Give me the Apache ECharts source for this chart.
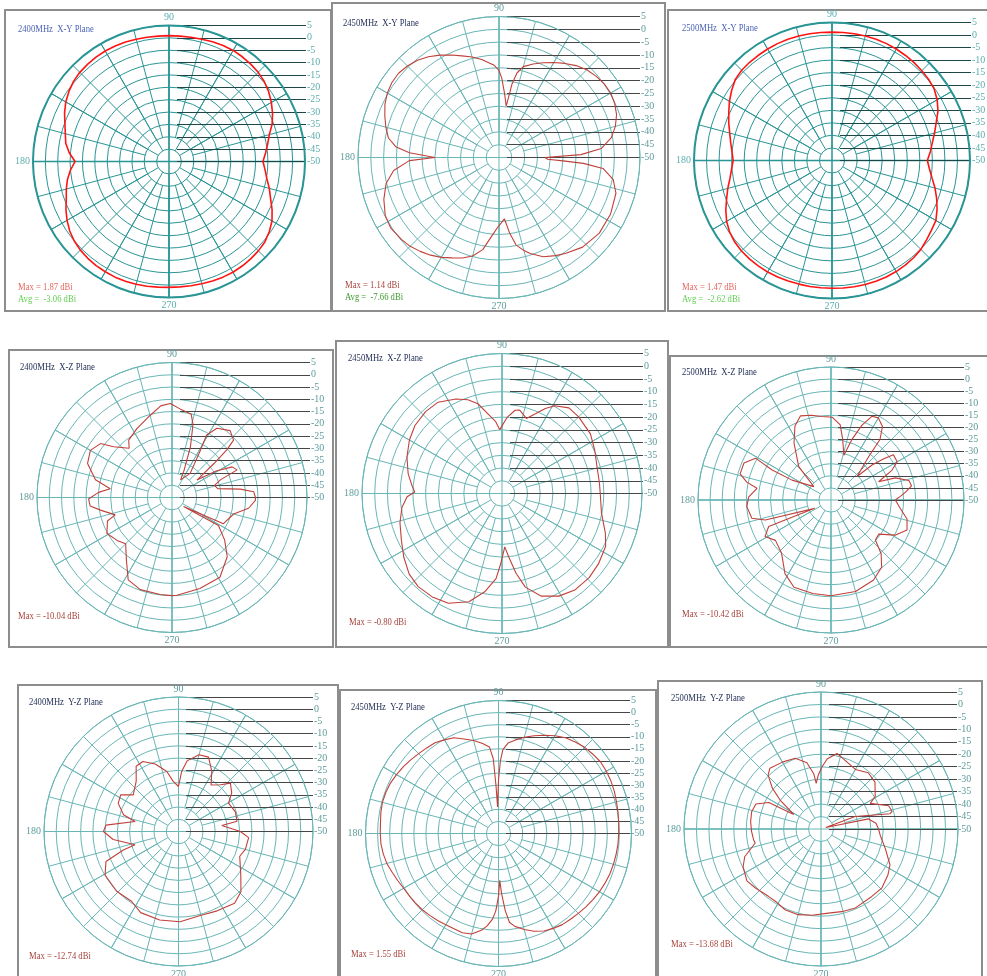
<!DOCTYPE html>
<html>
<head>
<meta charset="utf-8">
<title>Antenna radiation patterns</title>
<script src="https://cdn.jsdelivr.net/npm/echarts@6/dist/echarts.min.js"></script>
<style>
  html, body { margin: 0; padding: 0; background: #ffffff; }
  #chart { width: 987px; height: 976px; }
</style>
</head>
<body>
<div id="chart"></div>
<script>
// Gain scale in dBi: the centre is -50, the outer ring +5, one ring every 5 dB
const gainTicks = [5, 0, -5, -10, -15, -20, -25, -30, -35, -40, -45, -50];
// Angle labels printed round each plot (0 is replaced by the -50 label)
const angleTicks = [90, 180, 270];

// Shared 5-degree sampling used by the two smooth X-Y cuts
const stepAngles = [
  0, 5, 10, 15, 20, 25, 30, 35, 40, 45, 50, 55,
  60, 65, 70, 75, 80, 85, 90, 95, 100, 105, 110, 115,
  120, 125, 130, 135, 140, 145, 150, 155, 160, 165, 170, 175,
  180, 185, 190, 195, 200, 205, 210, 215, 220, 225, 230, 235,
  240, 245, 250, 255, 260, 265, 270, 275, 280, 285, 290, 295,
  300, 305, 310, 315, 320, 325, 330, 335, 340, 345, 350, 355
];

// 2400 MHz, X-Y plane
const xy2400Gain = [
  -12, -10.8, -9.5, -8, -5.6, -3.8, -2.2, -0.8, 0.3, 1.0, 1.4, 1.7,
  1.87, 1.8, 1.5, 1.2, 1.0, 0.9, 0.9, 0.9, 1.0, 1.2, 1.4, 1.5,
  1.6, 1.5, 1.3, 1.0, 0.4, -0.6, -1.8, -3.4, -5.2, -6.6, -7.6, -9.5,
  -12, -10, -8.3, -7, -5.8, -4, -2.4, -1, 0, 0.7, 1.1, 1.4,
  1.5, 1.6, 1.5, 1.4, 1.2, 1.0, 0.9, 0.9, 1.0, 1.2, 1.4, 1.6,
  1.7, 1.6, 1.4, 1.1, 0.6, -0.5, -1.9, -4, -6.3, -8, -9.8, -11
];

// 2500 MHz, X-Y plane
const xy2500Gain = [
  -12, -10.7, -9.4, -7.7, -5.8, -3.4, -1.6, -0.3, 0.3, 0.6, 0.9, 1.1,
  1.3, 1.4, 1.47, 1.4, 1.3, 1.2, 1.15, 1.2, 1.3, 1.4, 1.4, 1.4,
  1.3, 1.2, 1.1, 0.9, 0.3, -1.2, -2.8, -4.6, -6.2, -7.8, -9, -10,
  -10.6, -9.8, -8.7, -7, -5.3, -3.3, -1.5, -0.2, 0.6, 1.0, 1.2, 1.3,
  1.3, 1.2, 1.1, 1.0, 1.0, 0.9, 0.9, 1.0, 1.1, 1.2, 1.2, 1.2,
  1.1, 0.9, 0.6, 0.1, -0.8, -1.6, -2.2, -3.8, -5.6, -7.5, -9.5, -11
];

// 2450 MHz, X-Y plane
const xy2450Angle = [
  0, 2, 5, 10, 15, 20, 25, 30, 35, 40, 45, 50, 55, 60, 65, 70, 75, 78, 80, 82,
  85, 88, 90, 93, 100, 105, 110, 115, 120, 125, 130, 135, 140, 145, 150, 155,
  160, 165, 170, 174, 177, 180, 182, 187, 193, 200, 207, 213, 220, 225, 230,
  235, 240, 245, 250, 255, 260, 265, 269, 272, 275, 278, 281, 285, 288, 294,
  300, 305, 313, 323, 333, 343, 349, 354, 356, 357, 358
];
const xy2450Gain = [
  -32, -18, -10, -5.5, -3, -1.2, -0.2, 0.3, 0.1, -0.6, -1.6, -3.2, -5.2, -7.2, -9.2, -11.2, -13.3, -16.3, -21, -29.8,
  -25, -19, -16, -14, -11.2, -9.4, -7.8, -5.9, -3.9, -2, -0.5, 0.5, 1.14, 1.0, 0.3, -0.9,
  -2.6, -4.3, -6.2, -9.5, -15, -25, -15, -8.6, -4.8, -2.2, -0.2, 0.4, -0.3, -1, -2.2,
  -3.5, -5, -6.8, -8.3, -10.2, -13.5, -19.5, -22.8, -24.5, -26, -20.3, -15.3, -12.4, -10.6, -7.6,
  -5.8, -4.4, -2.2, -1, -1.2, -2.3, -4.6, -9.2, -17, -25, -31
];

// 2400 MHz, X-Z plane
const xz2400Angle = [
  0, 4, 7, 11, 16, 20, 23, 27, 31, 35, 39, 41, 43, 49, 57, 61, 59, 53, 64, 66,
  70, 74, 77, 84, 91, 97, 105, 117, 127, 131, 139, 143, 150, 158, 167, 172, 176,
  181, 186, 190, 197, 200, 209, 218, 225, 234, 242, 251, 263, 270, 273, 287, 301,
  313, 321, 329, 322, 333, 345, 352, 358
];
const xz2400Gain = [
  -16, -16.6, -22, -31, -32, -29, -21.2, -22.5, -29, -37.6, -28, -20.4, -15.7, -13.9, -16.4, -20.9, -27.5, -37.7, -42, -38,
  -28, -19, -15.2, -14, -11.7, -12.4, -15.4, -18.5, -20.7, -23.4, -18.5, -13.5, -11.6, -12.9, -18, -24.6, -20,
  -16, -16.5, -20.4, -25.8, -22, -19.7, -21.6, -23.3, -18.4, -12, -10.3, -10.2, -10.04, -10.1, -11.2, -12.1,
  -17, -22.4, -27.9, -44, -26.5, -24, -18.5, -16
];

// 2450 MHz, X-Z plane
const xz2450Angle = [
  0, 6, 16, 25, 34, 45, 52, 59, 63, 67, 72, 78, 81, 86, 92, 95, 100, 105, 110, 116,
  125, 133, 142, 150, 159, 168, 175, 179, 182, 188, 196, 205, 213, 221, 228, 236,
  244, 253, 260, 266, 269, 273, 276, 280, 284, 291, 299, 307, 316, 324, 333, 339, 349
];
const xz2450Gain = [
  -11.4, -11.5, -11.2, -9.8, -8.1, -7.4, -7.3, -9.8, -12.5, -15.9, -19, -16.5, -16.9, -19.9, -24.9, -21.7, -18.2, -13.5, -10.8, -8.7,
  -6.2, -6, -6.6, -8, -10, -12.3, -14.5, -15.7, -12.7, -10.3, -8.3, -6.4, -4, -1.7, -0.8, -1.0,
  -2, -5.5, -10.8, -16.5, -22.5, -29, -25, -18.2, -12.1, -6.8, -3.9, -2.5, -2.4, -3.1, -4.3, -6.5, -10.2
];

// 2500 MHz, X-Z plane
const xz2500Angle = [
  0, 3, 6, 10, 14, 19, 21, 26, 30, 36, 38, 40.5, 42, 49, 51, 55, 60, 64, 67.5, 71,
  74, 79, 83, 89, 96, 103, 110, 116, 123, 134, 142, 153, 153, 151, 157, 164, 168,
  171, 178, 184.5, 193, 197, 207, 203, 209, 216, 227, 238, 247, 259, 270, 285, 298,
  307, 313, 318, 324.5, 331.5, 338.5, 346, 353
];
const xz2500Gain = [
  -23.4, -21.3, -19, -16.2, -16.8, -21.9, -28.9, -22, -18.4, -18.1, -22.3, -27.7, -35.5, -26.3, -17.8, -12.9, -10.8, -11.5, -16.5, -23.6,
  -30.7, -24.6, -18.7, -15.8, -15.3, -14, -13, -16, -21.9, -30.8, -41, -31.9, -22.5, -14.3, -10.9, -10.9, -14.4,
  -19, -15.9, -15.1, -16.4, -21.6, -42.4, -22, -18.8, -21.6, -20, -14.1, -10.8, -10.6, -10.42, -10.8, -12.5,
  -15.2, -19.6, -25.3, -25.7, -19.6, -16.2, -17.6, -21.1
];

// 2400 MHz, Y-Z plane
const yz2400Angle = [
  0, 8, 10, 19, 29.5, 36, 43, 48, 55, 61, 68, 75, 83, 87, 90, 96, 101, 109, 117, 123,
  130, 141, 147.5, 155, 163, 167, 175, 180, 187, 197, 198.5, 202.5, 210.6, 224, 236,
  245, 258, 271, 284.5, 296, 308, 316, 325, 338, 345, 355
];
const yz2400Gain = [
  -24.7, -32.1, -25.7, -25.4, -26.5, -23.1, -21, -24.3, -26.8, -21.9, -17.2, -17.5, -20.9, -25.4, -31.6, -29.4, -25, -20.8, -17.9, -18.2,
  -23.1, -26.2, -22, -22.8, -26.5, -31.8, -20.2, -19.3, -23.1, -31.4, -26.2, -17.9, -15.1, -14.8, -15.6,
  -13.4, -13, -13.1, -14.5, -13.9, -12.74, -14.5, -18.9, -23, -21.7, -21.2
];

// 2450 MHz, Y-Z plane
const yz2450Angle = [
  0, 5, 10, 15, 20, 25, 30, 35, 40, 45, 50, 55, 60, 65, 70, 75, 80, 84, 87, 88.5,
  90, 91, 92, 93, 94, 96, 100, 105, 110, 115, 120, 125, 130, 135, 140, 145, 150,
  155, 160, 165, 170, 175, 180, 185, 190, 195, 200, 205, 210, 215, 220, 225, 230,
  235, 240, 245, 250, 255, 260, 263, 266, 268, 270, 271.5, 273, 275, 277, 280, 285,
  290, 295, 300, 305, 310, 315, 320, 325, 330, 335, 340, 345, 350, 355
];
const yz2450Gain = [
  -0.3, -0.1, 0.2, 0.5, 1.0, 1.3, 1.5, 1.55, 1.0, 0.4, -0.6, -1.7, -3.3, -5.2, -7, -8.8, -10.8, -12.4, -15.3, -20,
  -28, -35, -39, -30, -19, -14, -12.2, -10.2, -8.4, -6.3, -5.3, -4.2, -3.8, -3.3, -2.6, -1.9, -1.3,
  -0.7, -0.4, -0.3, -0.6, -1, -1.1, -1.2, -1.6, -2.2, -3.2, -4, -4.7, -5, -5.2, -5.4, -5.8,
  -6.1, -6.4, -6.5, -6.3, -7, -9.4, -11.5, -14.5, -18, -24, -30.6, -25, -18, -13, -11, -8.9,
  -7, -5.5, -4.7, -4, -3.7, -3.3, -2.8, -2.3, -1.8, -1.4, -1, -0.8, -0.6, -0.4
];

// 2500 MHz, Y-Z plane
const yz2500Angle = [
  0, 6, 12, 17, 20, 12.5, 14, 19, 27.5, 31, 41, 50, 60, 72, 78, 85, 89, 93, 96, 97.5,
  102, 110, 120, 130, 134.5, 140, 145, 152, 153, 159, 166, 174, 182, 189, 192, 200,
  206, 215, 222, 232, 238, 246, 255, 264, 275, 284, 293, 307, 316, 325.5, 332.6, 343, 354
];
const yz2500Gain = [
  -26.9, -27.8, -30.5, -48, -35.4, -21.6, -20.6, -21.3, -27.7, -24.6, -21.3, -20.5, -22.4, -20.5, -19, -21.8, -25, -28.4, -31.6, -27.6,
  -22.8, -19.8, -19, -18.1, -19.7, -24.5, -30.2, -37.6, -26.5, -22, -21.3, -21.6, -22.1, -22.6, -23, -17.4,
  -15.2, -13.68, -14.6, -15.7, -15.7, -14.5, -14.4, -15.2, -16.1, -15.8, -15.4, -16.1, -16, -17.4, -18.8, -23, -26.1
];

// Two drawing styles: crisp bright plots and the softer scanned-looking ones
const looks = {
  bright: {
    grid: '#2a9595', gridW: 1, outerW: 2, crossW: 1.5,
    curve: '#ff1414', curveW: 1.6, lead: '#1e4646', tick: '#5cadad',
    title: '#4c62b6', notes: ['#e5675f', '#62cf52']
  },
  soft: {
    grid: '#6ab6b6', gridW: 1, outerW: 1, crossW: 1,
    curve: '#c1403a', curveW: 1.1, lead: '#464646', tick: '#5e9b9b',
    title: '#1d2a52', notes: ['#a8443e', '#3f9a2e']
  }
};

// Panel layout: frame box, plot centre and radius, label leader span, text anchors
const panels = [
  { angles: stepAngles, gains: xy2400Gain, title: '2400MHz  X-Y Plane', notes: ['Max = 1.87 dBi', 'Avg =  -3.06 dBi'],
    look: 'bright', frame: [5, 10, 331, 311], center: [169, 161.5], r: 136, lead: [177, 306], titleAt: [18, 29], notesAt: [18, 287] },
  { angles: xy2450Angle, gains: xy2450Gain, title: '2450MHz  X-Y Plane', notes: ['Max = 1.14 dBi', 'Avg =  -7.66 dBi'],
    look: 'soft', frame: [332, 3, 665, 311], center: [499, 157.5], r: 141, lead: [507, 640], titleAt: [343, 23], notesAt: [345, 285] },
  { angles: stepAngles, gains: xy2500Gain, title: '2500MHz  X-Y Plane', notes: ['Max = 1.47 dBi', 'Avg =  -2.62 dBi'],
    look: 'bright', frame: [668, 10, 995, 311], center: [832, 160.5], r: 138, lead: [840, 971], titleAt: [682, 28], notesAt: [682, 287] },
  { angles: xz2400Angle, gains: xz2400Gain, title: '2400MHz  X-Z Plane', notes: ['Max = -10.04 dBi'],
    look: 'soft', frame: [9, 350, 333, 647], center: [172, 497.5], r: 135, lead: [180, 310], titleAt: [20, 367], notesAt: [18, 616] },
  { angles: xz2450Angle, gains: xz2450Gain, title: '2450MHz  X-Z Plane', notes: ['Max = -0.80 dBi'],
    look: 'soft', frame: [336, 341, 668, 647], center: [502, 493.5], r: 140, lead: [510, 643], titleAt: [348, 358], notesAt: [349, 622] },
  { angles: xz2500Angle, gains: xz2500Gain, title: '2500MHz  X-Z Plane', notes: ['Max = -10.42 dBi'],
    look: 'soft', frame: [670, 356, 995, 647], center: [831, 500], r: 133, lead: [838, 964], titleAt: [682, 372], notesAt: [682, 614] },
  { angles: yz2400Angle, gains: yz2400Gain, title: '2400MHz  Y-Z Plane', notes: ['Max = -12.74 dBi'],
    look: 'soft', frame: [18, 685, 338, 985], center: [178.5, 831.5], r: 134.5, lead: [186, 313], titleAt: [29, 702], notesAt: [29, 956] },
  { angles: yz2450Angle, gains: yz2450Gain, title: '2450MHz  Y-Z Plane', notes: ['Max = 1.55 dBi'],
    look: 'soft', frame: [340, 690, 656, 985], center: [498.5, 833.5], r: 133, lead: [506, 630], titleAt: [351, 707], notesAt: [351, 954] },
  { angles: yz2500Angle, gains: yz2500Gain, title: '2500MHz  Y-Z Plane', notes: ['Max = -13.68 dBi'],
    look: 'soft', frame: [658, 681, 982, 985], center: [821, 829], r: 137, lead: [829, 957], titleAt: [671, 698], notesAt: [671, 944] }
];

const gainMin = Math.min(...gainTicks);
const gainMax = Math.max(...gainTicks);
const gainStep = gainTicks[0] - gainTicks[1];
const serif = '"Liberation Serif", "DejaVu Serif", serif';

const polar = [], angleAxis = [], radiusAxis = [], series = [];
const grid = [], xAxis = [], yAxis = [], graphic = [];

panels.forEach((p, i) => {
  const lk = looks[p.look];
  const ring = p.r / gainTicks.length * (gainTicks.length / (gainTicks.length - 1));

  // Spokes: every 30 deg from the -45 ring, every 15 deg from the -40 ring
  [[ring, 30], [ring * 2, 15]].forEach(([inner, step]) => {
    const k = polar.length;
    polar.push({ center: p.center, radius: [inner, p.r] });
    angleAxis.push({
      polarIndex: k, type: 'value', min: 0, max: 360, interval: step,
      startAngle: 0, clockwise: false,
      axisLine: { show: false }, axisTick: { show: false }, axisLabel: { show: false },
      splitLine: { show: true, lineStyle: { color: lk.grid, width: lk.gridW } }
    });
    radiusAxis.push({ polarIndex: k, type: 'value', min: 0, max: 1, show: false });
  });

  // Main polar system: gain rings, cross axes, outer circle and the pattern
  const m = polar.length;
  polar.push({ center: p.center, radius: [0, p.r] });
  angleAxis.push({
    polarIndex: m, type: 'value', min: 0, max: 360, interval: 90,
    startAngle: 0, clockwise: false,
    axisLine: { show: true, lineStyle: { color: lk.grid, width: lk.outerW } },
    axisTick: { show: false },
    axisLabel: {
      show: true, margin: 3, color: lk.tick, fontFamily: serif, fontSize: 10,
      formatter: v => (angleTicks.indexOf(v) >= 0 ? String(v) : '')
    },
    splitLine: { show: true, lineStyle: { color: lk.grid, width: lk.crossW } }
  });
  radiusAxis.push({
    polarIndex: m, type: 'value', min: gainMin, max: gainMax, interval: gainStep,
    axisLine: { show: false }, axisTick: { show: false }, axisLabel: { show: false },
    splitLine: { show: true, lineStyle: { color: lk.grid, width: lk.gridW } }
  });

  const pts = p.angles.map((a, j) => [p.gains[j], a]);
  pts.push(pts[0]);
  series.push({
    type: 'line', coordinateSystem: 'polar', polarIndex: m, data: pts,
    symbol: 'none', showSymbol: false, smooth: false, silent: true,
    lineStyle: { color: lk.curve, width: lk.curveW }, z: 5
  });

  // Gain labels with horizontal leader lines to the right of each plot
  grid.push({
    left: p.lead[0], top: p.center[1] - p.r, width: p.lead[1] - p.lead[0], height: p.r,
    containLabel: false, outerBoundsMode: 'none'
  });
  xAxis.push({ gridIndex: i, type: 'value', min: 0, max: 1, show: false });
  yAxis.push({
    gridIndex: i, type: 'value', min: gainMin, max: gainMax, interval: gainStep, position: 'right',
    axisLine: { show: false }, axisTick: { show: false },
    axisLabel: { margin: 1, color: lk.tick, fontFamily: serif, fontSize: 10 },
    splitLine: { show: true, lineStyle: { color: lk.lead, width: 1 } }
  });

  // Panel frame
  const [x1, y1, x2, y2] = p.frame;
  graphic.push({
    type: 'rect', silent: true, z: 0,
    shape: { x: x1, y: y1, width: x2 - x1, height: y2 - y1 },
    style: { fill: 'none', stroke: '#8d8d8d', lineWidth: 2 }
  });

  // Title and summary notes
  graphic.push({
    type: 'text', x: p.titleAt[0], y: p.titleAt[1], scaleX: 0.82, silent: true, z: 10,
    style: { text: p.title, fill: lk.title, font: '10.5px ' + serif, verticalAlign: 'middle', textVerticalAlign: 'middle' }
  });
  p.notes.forEach((t, j) => {
    graphic.push({
      type: 'text', x: p.notesAt[0], y: p.notesAt[1] + j * 12, scaleX: 0.82, silent: true, z: 10,
      style: { text: t, fill: lk.notes[j], font: '10.5px ' + serif, verticalAlign: 'middle', textVerticalAlign: 'middle' }
    });
  });
});

const chart = echarts.init(document.getElementById('chart'), null, { renderer: 'canvas' });
chart.setOption({
  backgroundColor: '#ffffff',
  animation: false,
  polar, angleAxis, radiusAxis,
  grid, xAxis, yAxis,
  series,
  graphic
});
</script>
</body>
</html>
